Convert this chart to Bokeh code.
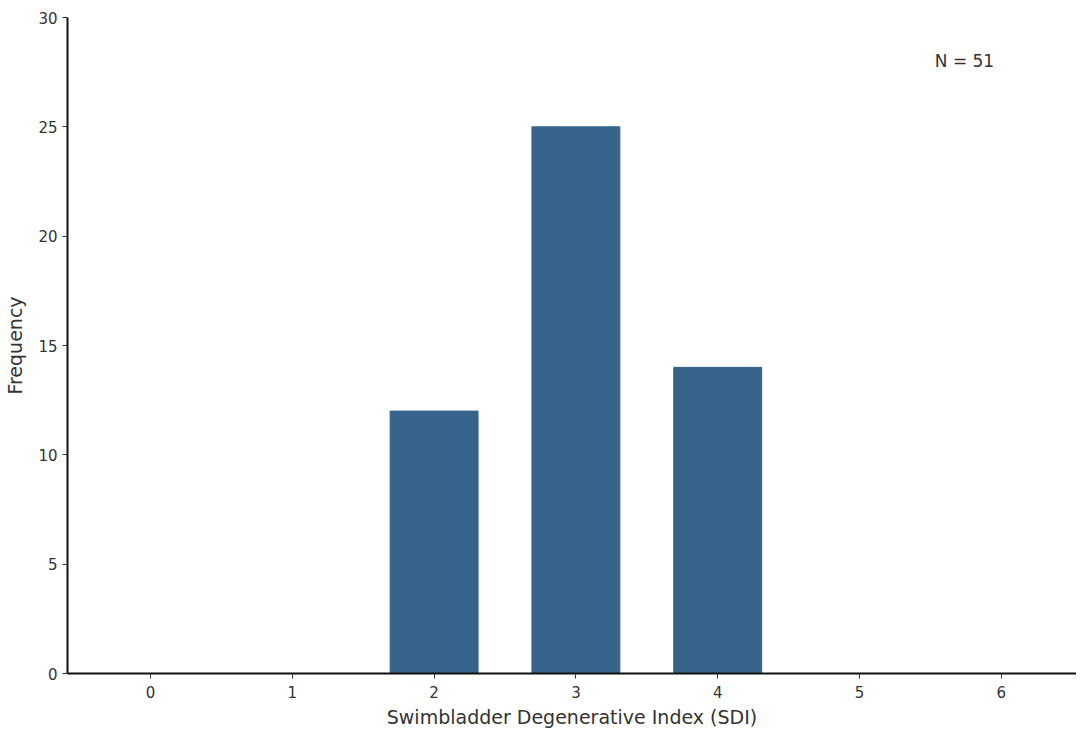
from bokeh.plotting import figure
from bokeh.models import FixedTicker, Range1d, Label
from bokeh.embed import file_html
from bokeh.resources import INLINE

sdi = [0, 1, 2, 3, 4, 5, 6]
freq = [0, 0, 12, 25, 14, 0, 0]
tick_vals = [0, 5, 10, 15, 20, 25, 30]

FONT = "DejaVu Sans"
p = figure(width=1076, height=730, output_backend="svg", toolbar_location=None,
           x_range=Range1d(-0.585, 6.53), y_range=Range1d(0, 30),
           min_border_left=67, min_border_right=0, min_border_top=17, min_border_bottom=40)
p.vbar(x=sdi, top=freq, width=0.62, bottom=0, fill_color="#36648B", line_color="#36648B", line_width=1)

p.xaxis.ticker = FixedTicker(ticks=sdi)
p.yaxis.ticker = FixedTicker(ticks=tick_vals)
p.xgrid.visible = False
p.ygrid.visible = False
p.outline_line_color = None
for ax in (p.xaxis[0], p.yaxis[0]):
    ax.axis_line_color = "#111111"
    ax.axis_line_width = 2
    ax.major_tick_line_color = "#333333"
    ax.major_tick_out = 5
    ax.major_tick_in = 0
    ax.minor_tick_line_color = None
    ax.major_label_text_font = FONT
    ax.major_label_text_font_size = "15px"
    ax.major_label_text_color = "#333333"
    ax.axis_label_text_font = FONT
    ax.axis_label_text_font_style = "normal"
    ax.axis_label_text_font_size = "19px"
    ax.axis_label_text_color = "#333333"
p.xaxis.axis_label = "Swimbladder Degenerative Index (SDI)"
p.yaxis.axis_label = "Frequency"
p.xaxis.axis_label_standoff = 5
p.yaxis.axis_label_standoff = 9
p.xaxis.major_label_standoff = 7

p.add_layout(Label(x=5.74, y=28.0, text="N = 51",
                   text_font=FONT, text_font_size="17px", text_color="#333333",
                   text_align="center", text_baseline="middle"))

open("out.html", "w").write(file_html(p, INLINE))
